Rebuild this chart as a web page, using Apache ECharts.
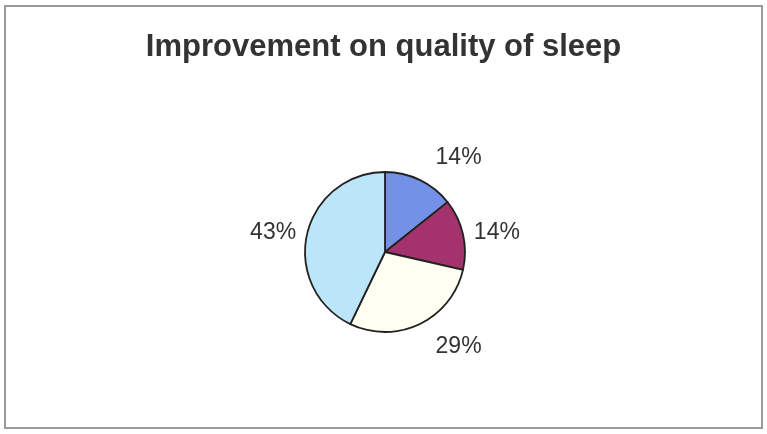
<!DOCTYPE html>
<html>
<head>
<meta charset="utf-8">
<script src="https://cdn.jsdelivr.net/npm/echarts@6/dist/echarts.min.js"></script>
<style>
  html, body { margin: 0; padding: 0; background: #fff; }
  #chart { width: 767px; height: 434px; }
  .frame { position: absolute; left: 4px; top: 5px; width: 759px; height: 424px; border: 2px solid #9a9a9a; box-sizing: border-box; pointer-events: none; }
</style>
</head>
<body>
<div id="chart"></div>
<div class="frame"></div>
<script>
  // slices go clockwise from 12 o'clock
  var categories = ['A', 'B', 'C', 'D'];
  var values = [1, 1, 2, 3];
  var colors = ['#7391e6', '#a3326d', '#fffff2', '#bbe5f9'];
  var lineLen = [25, 6, 25, 6];   // label distance from the edge

  var myChart = echarts.init(document.getElementById('chart'));
  var option = {
    backgroundColor: '#fff',
    title: {
      text: 'Improvement on quality of sleep',
      left: 'center',
      top: 27,
      textStyle: {
        fontFamily: 'Liberation Sans',
        fontWeight: 'bold',
        fontSize: 31,
        color: '#333'
      }
    },
    series: [
      {
        type: 'pie',
        center: [385, 252],
        radius: 80,
        startAngle: 90,
        clockwise: true,
        percentPrecision: 0,
        animation: false,
        itemStyle: {
          borderColor: '#222',
          borderWidth: 1.8
        },
        label: {
          show: true,
          position: 'outside',
          formatter: '{d}%',
          fontFamily: 'Liberation Sans',
          fontSize: 23,
          color: '#333'
        },
        labelLine: {
          show: false,
          length2: 0
        },
        data: categories.map(function (c, i) {
          return {
            name: c,
            value: values[i],
            itemStyle: { color: colors[i] },
            labelLine: { length: lineLen[i] }
          };
        })
      }
    ]
  };
  myChart.setOption(option);
</script>
</body>
</html>
